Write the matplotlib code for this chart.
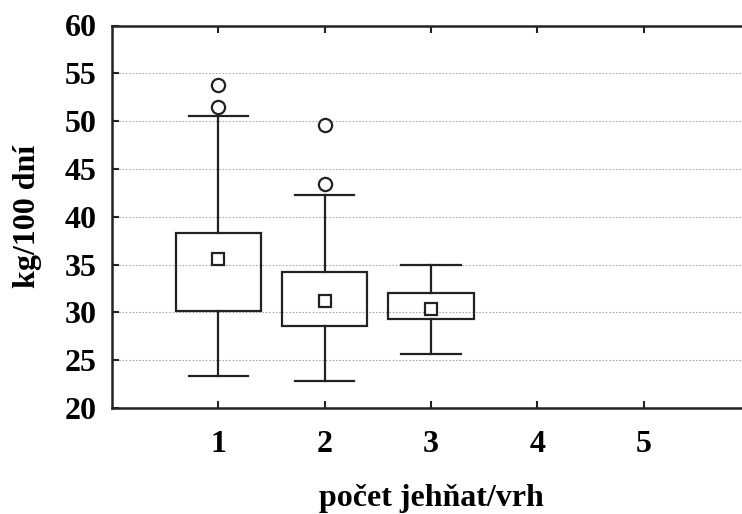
import matplotlib
matplotlib.use("Agg")
import matplotlib.pyplot as plt
from matplotlib.patches import Rectangle

positions = [1, 2, 3]
q1 = [30.1, 28.6, 29.3]
q3 = [38.3, 34.2, 32.0]
means = [35.6, 31.2, 30.4]
whisk_lo = [23.3, 22.8, 25.6]
whisk_hi = [50.5, 42.3, 35.0]
outliers = [[51.5, 53.8], [43.4, 49.6], []]
xticks = [1, 2, 3, 4, 5]
yticks = [20, 25, 30, 35, 40, 45, 50, 55, 60]

plt.rcParams['font.family'] = ['Liberation Serif', 'DejaVu Serif']
plt.rcParams['font.weight'] = 'bold'

fig = plt.figure(figsize=(7.42, 5.14), dpi=100)
W, H = 742, 514
left, right, top, bottom = 112, 750, 25.5, 408
ax = fig.add_axes([left / W, 1 - bottom / H, (right - left) / W, (bottom - top) / H])
ax.set_xlim(0, 6)
ax.set_ylim(20, 60)

lc = '#222222'
lw = 1.6
bw = 0.8
cw = 0.56
for i, x in enumerate(positions):
    ax.add_patch(Rectangle((x - bw / 2, q1[i]), bw, q3[i] - q1[i], fill=False,
                           edgecolor=lc, linewidth=lw, zorder=3))
    ax.plot([x, x], [q3[i], whisk_hi[i]], color=lc, lw=lw, zorder=3)
    ax.plot([x, x], [whisk_lo[i], q1[i]], color=lc, lw=lw, zorder=3)
    ax.plot([x - cw / 2, x + cw / 2], [whisk_hi[i]] * 2, color=lc, lw=lw, zorder=3)
    ax.plot([x - cw / 2, x + cw / 2], [whisk_lo[i]] * 2, color=lc, lw=lw, zorder=3)
    ax.plot([x], [means[i]], marker='s', ms=9, mfc='white', mec=lc, mew=1.6, zorder=4)
    if outliers[i]:
        ax.plot([x] * len(outliers[i]), outliers[i], linestyle='none', marker='o',
                ms=9.5, mfc='white', mec=lc, mew=1.6, zorder=4)

ax.set_yticks(yticks)
ax.set_xticks(xticks)
ax.set_yticklabels([str(v) for v in yticks], fontsize=23, fontweight='bold')
ax.set_xticklabels([str(v) for v in xticks], fontsize=23, fontweight='bold')
ax.tick_params(axis='both', direction='in', length=5, width=1.5, color=lc,
               top=True, right=True)
ax.tick_params(axis='y', pad=11)
ax.tick_params(axis='x', pad=16)
for s in ax.spines.values():
    s.set_linewidth(1.8)
    s.set_color(lc)

for y in yticks[1:-1]:
    ax.axhline(y, color='#aaaaaa', lw=0.8, linestyle=(0, (1.5, 1.5)), zorder=1)

ax.set_ylabel('kg/100 dní', fontsize=23, fontweight='bold', labelpad=16)
ax.set_xlabel('počet jehňat/vrh', fontsize=23, fontweight='bold', labelpad=18)

fig.savefig('out.png', dpi=100)
